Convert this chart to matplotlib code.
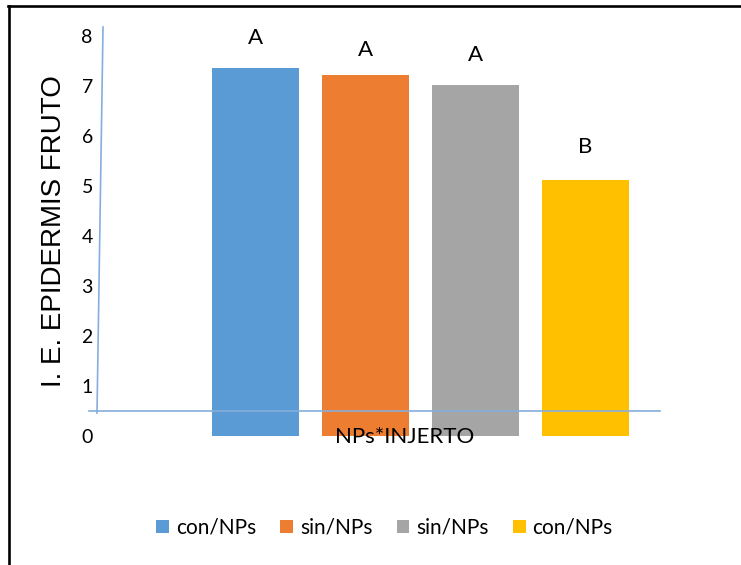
import matplotlib.pyplot as plt
from matplotlib.lines import Line2D
from matplotlib.patches import Patch

groups = ['con/NPs', 'sin/NPs', 'sin/NPs', 'con/NPs']
values = [7.36, 7.22, 7.02, 5.12]
letters = ['A', 'A', 'A', 'B']
letter_y = [7.96, 7.72, 7.62, 5.78]
colors = ['#5B9BD5', '#ED7D31', '#A5A5A5', '#FFC000']
yticks = [0, 1, 2, 3, 4, 5, 6, 7, 8]

axis_blue = '#86AEDC'

fig = plt.figure(figsize=(7.41, 5.65), dpi=100)
ax = fig.add_axes([0.1309, 0.2283, 0.7598, 0.7257])

x = list(range(len(values)))
ax.bar(x, values, width=0.79, color=colors, zorder=2)

for i, (lab, ly) in enumerate(zip(letters, letter_y)):
    ax.text(i, ly, lab, ha='center', va='center', fontsize=16,
            family='Lato', color='black')

ax.set_xlim(-1.44, 3.68)
ax.set_ylim(0, 8.2)
ax.set_yticks(yticks)
ax.set_yticklabels([str(t) for t in yticks], family='Lato', fontsize=14)
ax.tick_params(axis='y', length=0, pad=3)
ax.set_xticks([])
for s in ax.spines.values():
    s.set_visible(False)

# the skewed axis lines
tr = ax.get_yaxis_transform()
ax.plot([-0.014, 1.0], [0.5, 0.5], color=axis_blue, lw=1.2,
        transform=tr, clip_on=False, zorder=3)
ax.plot([0.0, 0.0107], [0.46, 8.18], color=axis_blue, lw=1.2,
        transform=tr, clip_on=False, zorder=3)

fig.text(54 / 741, 1 - 231 / 565, 'I. E. EPIDERMIS FRUTO', rotation=90,
         ha='center', va='center', fontsize=20, family='Liberation Sans')
fig.text(405 / 741, 1 - 437 / 565, 'NPs*INJERTO', ha='center', va='center',
         fontsize=16, family='Lato', zorder=5)

handles = [Patch(facecolor=c, edgecolor='none') for c in colors]
fig.legend(handles, groups, loc='center', bbox_to_anchor=(0.519, 1 - 528 / 565),
           ncol=4, frameon=False, prop={'family': 'Lato', 'size': 15},
           handlelength=0.62, handleheight=0.62, handletextpad=0.33,
           columnspacing=1.15)

# outer frame (top and left edges)
fig.add_artist(Line2D([8 / 741, 1.0], [1 - 6 / 565, 1 - 6 / 565],
                      color='black', lw=1.9, transform=fig.transFigure))
fig.add_artist(Line2D([9 / 741, 9 / 741], [0.0, 1 - 6 / 565],
                      color='black', lw=1.9, transform=fig.transFigure))

fig.savefig('out.png', dpi=100)
